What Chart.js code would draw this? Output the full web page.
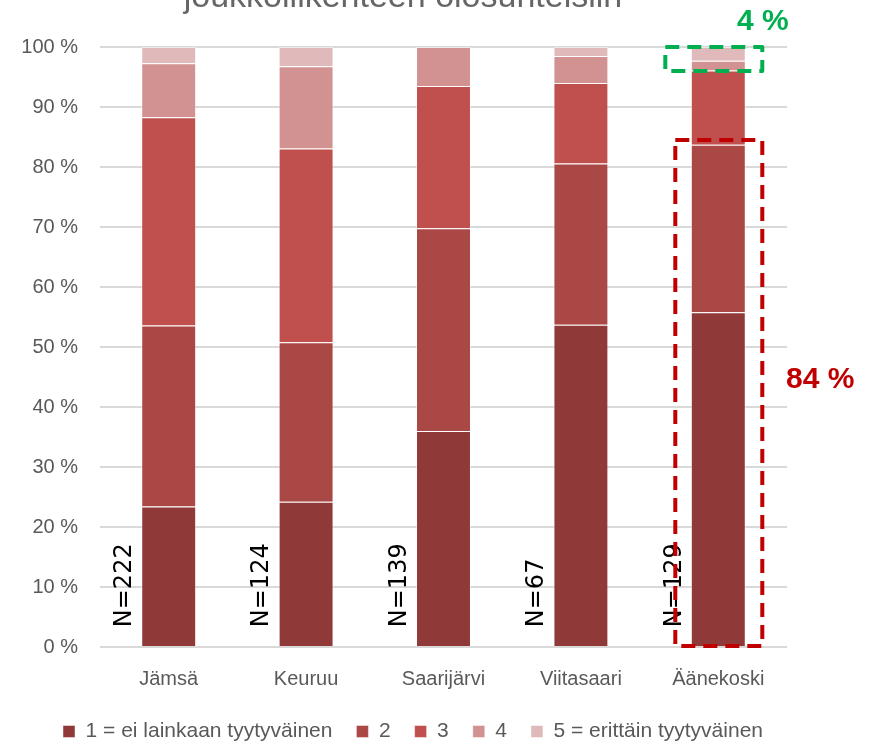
<!DOCTYPE html>
<html>
<meta charset="UTF-8">
<title>Tyytyväisyys joukkoliikenteen olosuhteisiin</title>
<script src="https://cdn.jsdelivr.net/npm/chart.js"></script>
<style type="text/css">
	html,
	body {
		margin: 0px;
		background: #ffffff;
	}

	.container {
		width: 877px;
		height: 743px;
	}
</style>

<body>
	<div class="container"><canvas id="chart"></canvas></div>

	<script>
		// kunnat
		var labels = ['Jämsä', 'Keuruu', 'Saarijärvi', 'Viitasaari', 'Äänekoski'];
		var nLabels = ['N=222', 'N=124', 'N=139', 'N=67', 'N=129'];

		// osuudet (%) vastausluokittain
		var answer1 = [23.4, 24.2, 36.0, 53.7, 55.8];
		var answer2 = [30.2, 26.6, 33.8, 26.9, 27.9];
		var answer3 = [34.7, 32.3, 23.7, 13.4, 12.4];
		var answer4 = [9.0, 13.7, 6.5, 4.5, 1.6];
		var answer5 = [2.7, 3.2, 0, 1.5, 2.3];

		var seriesNames = ['1 = ei lainkaan tyytyväinen', '2', '3', '4', '5 = erittäin tyytyväinen'];
		var seriesColors = ['#8f3a39', '#aa4846', '#c0504d', '#d29291', '#e0baba'];

		var greyText = '#595959';
		var baseFont = '"Liberation Sans", Arial, sans-serif';

		var datasets = [answer1, answer2, answer3, answer4, answer5].map(function (arr, i) {
			return {
				label: seriesNames[i],
				data: arr,
				backgroundColor: seriesColors[i],
				borderColor: 'rgba(255,255,255,0.45)',
				borderWidth: 1,
				categoryPercentage: 0.8,
				barPercentage: 0.5
			};
		});

		// otsikon alaosa, N-tekstit ja korostuslaatikot
		var extras = {
			id: 'extras',
			afterDatasetsDraw: function (chart) {
				var ctx = chart.ctx;
				var xs = chart.scales.x;
				var ys = chart.scales.y;

				ctx.save();
				ctx.fillStyle = '#666666';
				ctx.font = '34px ' + baseFont;
				ctx.textAlign = 'center';
				ctx.textBaseline = 'alphabetic';
				ctx.fillText('joukkoliikenteen olosuhteisiin', 403, 7);

				ctx.fillStyle = '#000000';
				ctx.font = '24px "DejaVu Sans", sans-serif';
				ctx.textAlign = 'left';
				ctx.textBaseline = 'middle';
				for (var i = 0; i < nLabels.length; i++) {
					ctx.save();
					ctx.translate(xs.getPixelForValue(i) - 44, ys.getPixelForValue(3.3));
					ctx.rotate(-Math.PI / 2);
					ctx.fillText(nLabels[i], 0, 0);
					ctx.restore();
				}

				var cx = xs.getPixelForValue(4);
				ctx.lineWidth = 4;
				ctx.setLineDash([14, 8]);
				ctx.lineJoin = 'round';

				ctx.strokeStyle = '#c00000';
				ctx.strokeRect(cx - 43, ys.getPixelForValue(84.5), 87, ys.getPixelForValue(0) - ys.getPixelForValue(84.5) - 1);

				ctx.strokeStyle = '#00b050';
				ctx.strokeRect(cx - 53, ys.getPixelForValue(100), 97, ys.getPixelForValue(96) - ys.getPixelForValue(100));
				ctx.setLineDash([]);

				ctx.font = 'bold 30px ' + baseFont;
				ctx.textBaseline = 'middle';
				ctx.fillStyle = '#c00000';
				ctx.fillText('84 %', 786, ys.getPixelForValue(44.5));
				ctx.fillStyle = '#00b050';
				ctx.fillText('4 %', 737, ys.getPixelForValue(104.2));
				ctx.restore();
			}
		};

		var config = {
			type: 'bar',
			data: {
				labels: labels,
				datasets: datasets
			},
			options: {
				responsive: true,
				maintainAspectRatio: false,
				animation: false,
				layout: {
					padding: { left: 0, right: 51, top: 47, bottom: -9 }
				},
				plugins: {
					legend: {
						position: 'bottom',
						labels: {
							boxWidth: 12,
							boxHeight: 12,
							padding: 24,
							color: greyText,
							font: { size: 21, family: baseFont }
						}
					},
					tooltip: { enabled: false },
					title: { display: false }
				},
				scales: {
					x: {
						stacked: true,
						grid: { display: false },
						border: { display: false },
						ticks: {
							color: greyText,
							padding: 12,
							font: { size: 20, family: baseFont }
						},
						afterFit: function (s) { s.height = 50; }
					},
					y: {
						stacked: true,
						min: 0,
						max: 100,
						ticks: {
							stepSize: 10,
							padding: 22,
							color: greyText,
							font: { size: 20, family: baseFont },
							callback: function (v) { return v + ' %'; }
						},
						grid: { color: '#d9d9d9', lineWidth: 2, drawTicks: false },
						border: { display: false },
						afterFit: function (s) { s.width = 100; }
					},
					y2: {
						position: 'right',
						display: true,
						grid: { display: false },
						ticks: { display: false },
						border: { display: false },
						afterFit: function (s) { s.width = 39; }
					}
				}
			},
			plugins: [extras]
		};

		new Chart(document.getElementById('chart'), config);
	</script>
</body>

</html>
